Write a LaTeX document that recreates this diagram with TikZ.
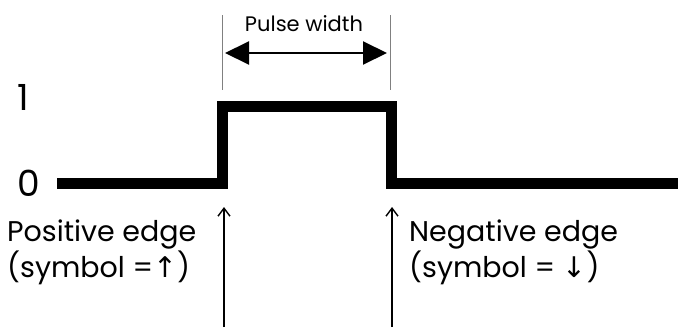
\documentclass[tikz,border=0pt]{standalone}
\usepackage{fontspec}
\setmainfont{Poppins}
\newfontfamily\arrfont{DejaVu Sans}
\usetikzlibrary{arrows.meta}
\tikzset{
  sig/.style={line width=11pt, line join=miter, line cap=butt},
  guide/.style={line width=0.6pt, gray},
  edgearrow/.style={line width=1.4pt, -{Straight Barb[length=8pt,width=12pt,line width=1.4pt]}},
  widtharrow/.style={line width=2pt, {Triangle[length=24pt,width=23pt]}-{Triangle[length=24pt,width=23pt]}},
  lbl/.style={inner sep=0pt, font=\fontsize{28.5}{32}\selectfont, align=left, anchor=north west},
  lvl/.style={inner sep=0pt, font=\fontsize{36}{36}\selectfont},
}
\begin{document}
\begin{tikzpicture}[x=1pt,y=-1pt]
\useasboundingbox (0,0) rectangle (678,327);
% signal
\coordinate (s0) at (57,183.5);
\coordinate (r0) at (222,183.5);
\coordinate (r1) at (222,106.5);
\coordinate (f1) at (391,106.5);
\coordinate (f0) at (391,183.5);
\coordinate (e0) at (678,183.5);
\draw[sig] (s0) -- (r0) -- (r1) -- (f1) -- (f0) -- (e0);
% guides
\coordinate (g1t) at (222,15);
\coordinate (g1b) at (222,90);
\coordinate (g2t) at (390,15);
\coordinate (g2b) at (390,90);
\draw[guide] (g1t) -- (g1b);
\draw[guide] (g2t) -- (g2b);
% pulse width arrow
\coordinate (wa) at (225,53);
\coordinate (wb) at (387,53);
\draw[widtharrow] (wa) -- (wb);
\node[inner sep=0pt, font=\fontsize{21}{21}\selectfont, anchor=base] (pw) at (304,31) {Pulse width};
% levels
\node[lvl, anchor=base west] (one) at (17,110) {1};
\node[lvl, anchor=base west] (zero) at (17,196) {0};
% edge arrows
\coordinate (pa) at (224,327);
\coordinate (pt) at (224,207);
\coordinate (na) at (392,327);
\coordinate (nt) at (392,207);
\draw[edgearrow] (pa) -- (pt);
\draw[edgearrow] (na) -- (nt);
% labels
\node[lbl, anchor=base west] (pos) at (7,277) {Positive edge\\(symbol ={\arrfont↑})};
\node[lbl, anchor=base west] (neg) at (409,277) {Negative edge\\(symbol = {\arrfont↓})};
\end{tikzpicture}
\end{document}
